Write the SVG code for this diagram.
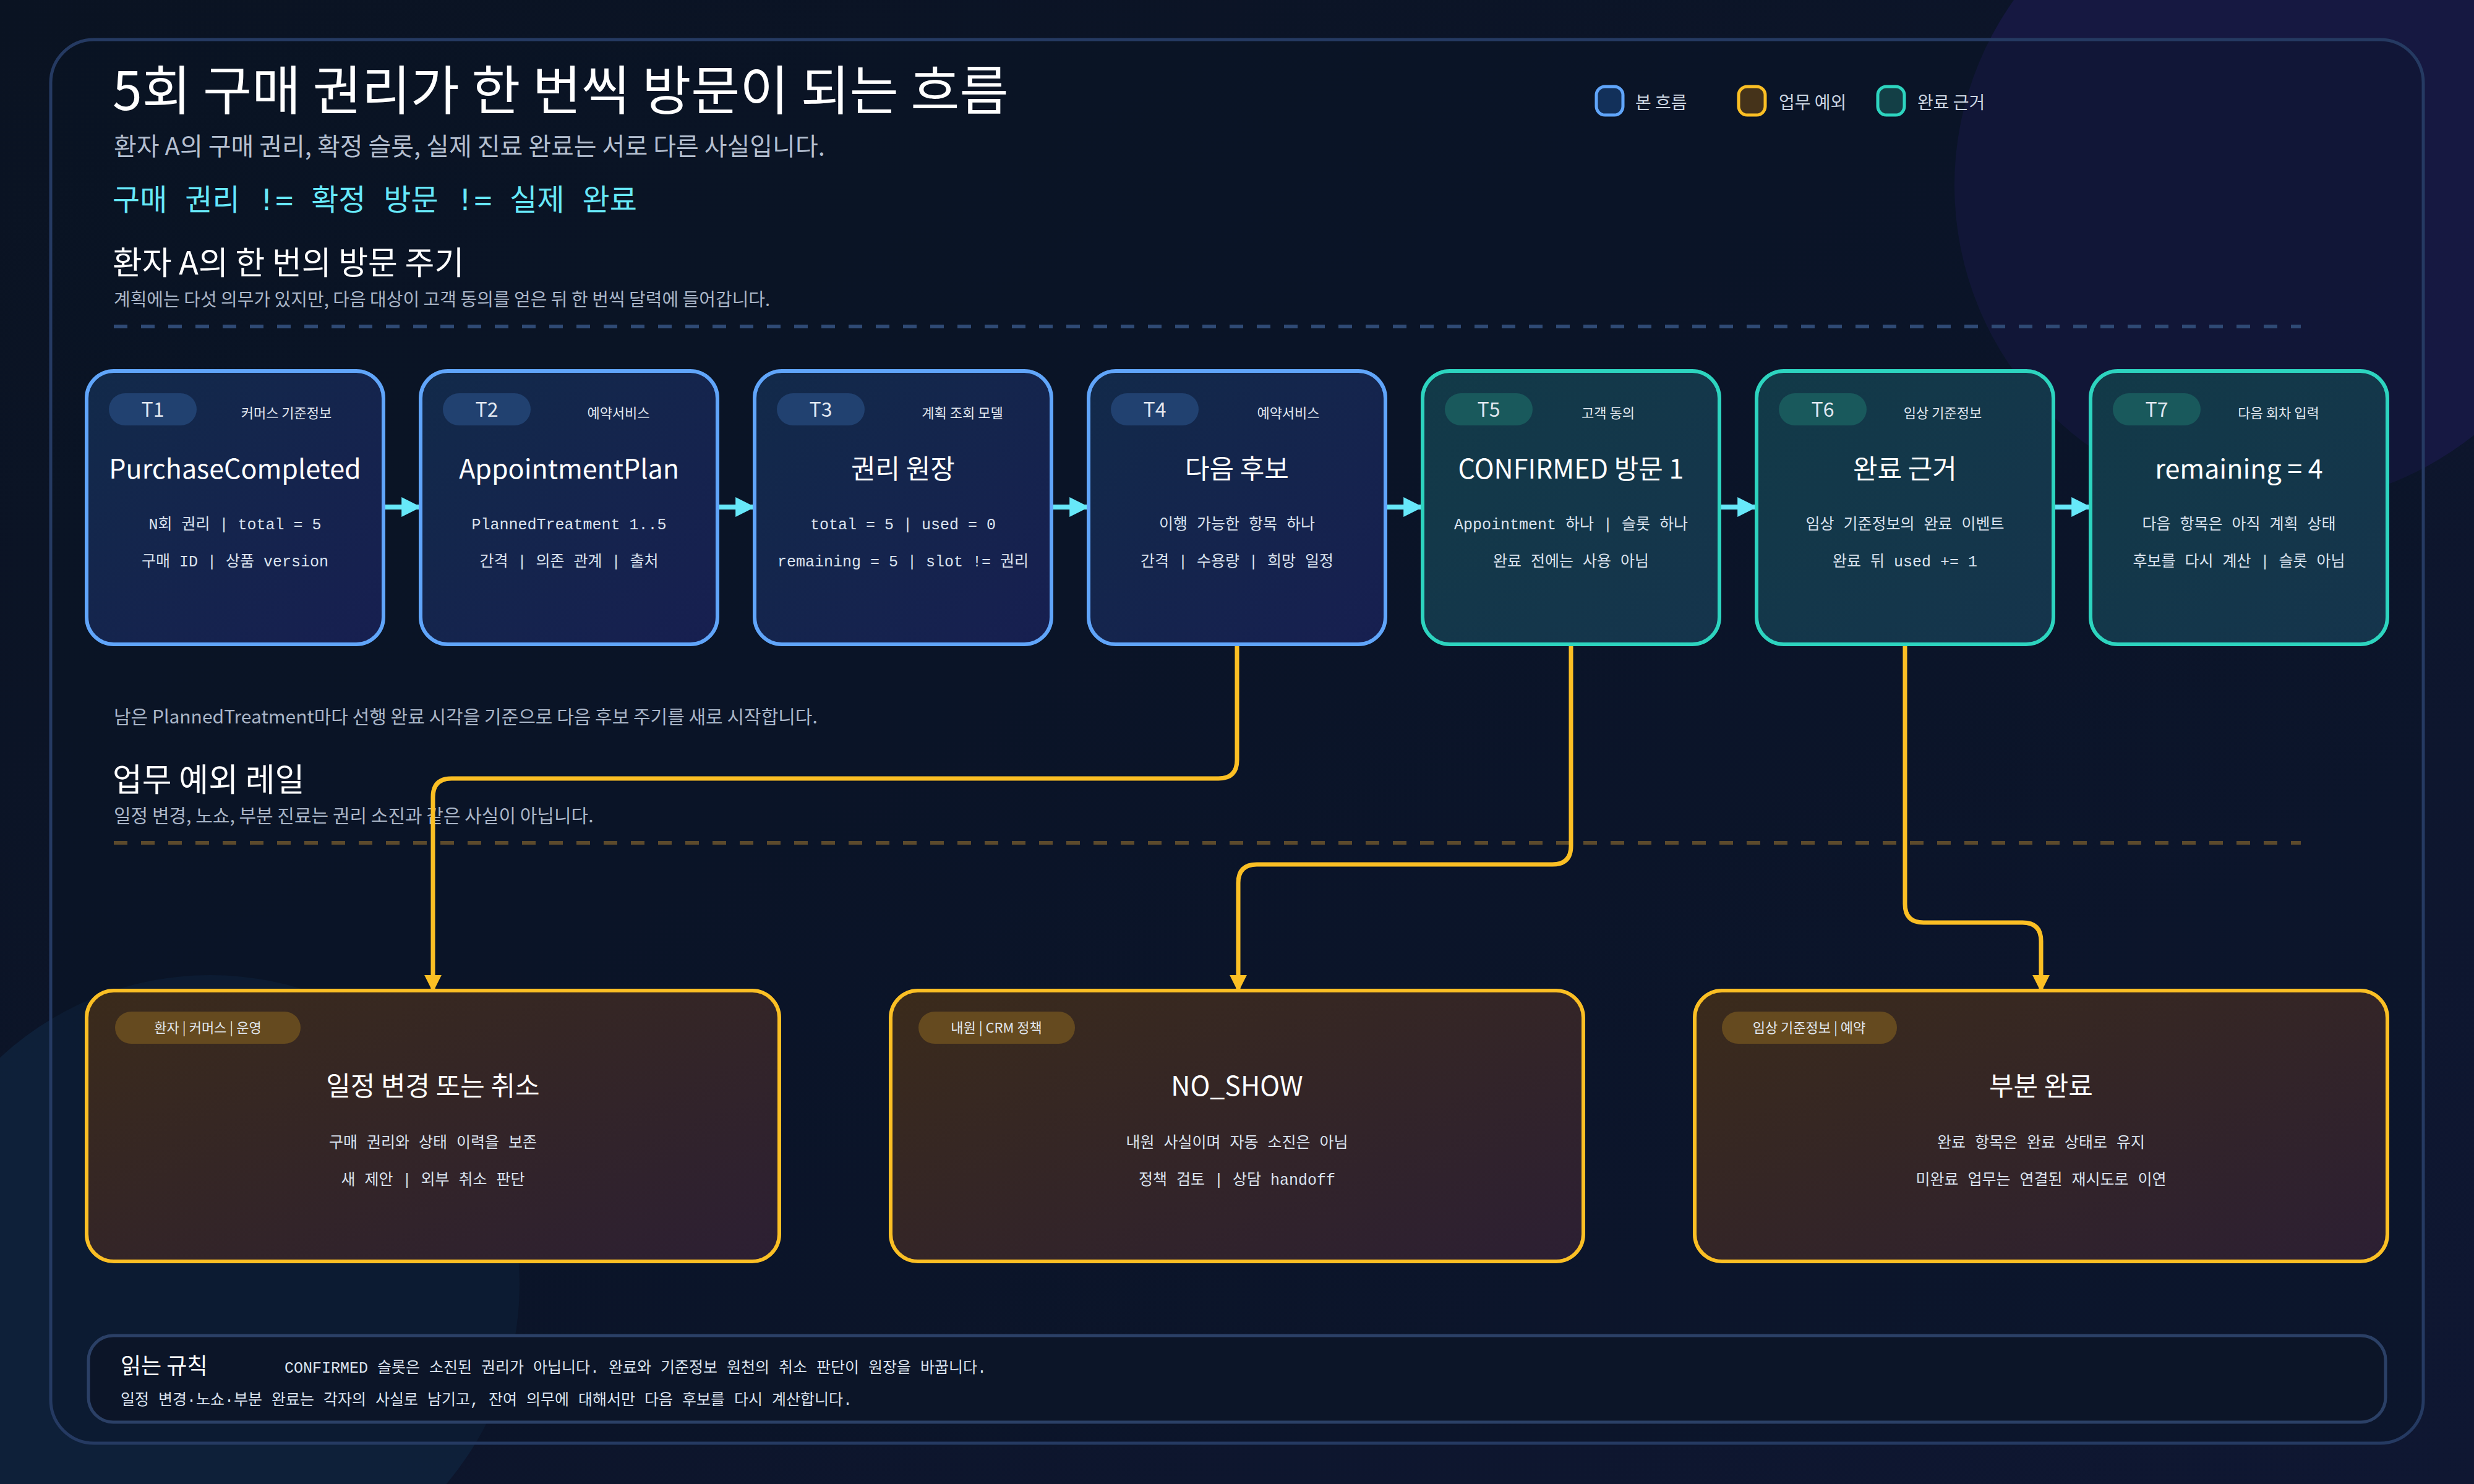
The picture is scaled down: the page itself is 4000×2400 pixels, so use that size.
<svg xmlns="http://www.w3.org/2000/svg" width="4000" height="2400" viewBox="0 0 4000 2400">
<defs>
<linearGradient id="bg" x1="0" y1="0" x2="1" y2="1"><stop offset="0" stop-color="#0a1322"/><stop offset="1" stop-color="#0f1732"/></linearGradient>
<linearGradient id="gBlue" x1="0" y1="0" x2="1" y2="1"><stop offset="0" stop-color="#122a4a"/><stop offset="1" stop-color="#171f50"/></linearGradient>
<linearGradient id="gTeal" x1="0" y1="0" x2="1" y2="1"><stop offset="0" stop-color="#123a48"/><stop offset="1" stop-color="#15344c"/></linearGradient>
<linearGradient id="gAmber" x1="0" y1="0" x2="1" y2="1"><stop offset="0" stop-color="#3b2b1b"/><stop offset="1" stop-color="#2c1f33"/></linearGradient>
<marker id="aC" viewBox="0 0 10 10" refX="9" refY="5" markerWidth="4" markerHeight="6" markerUnits="strokeWidth" orient="auto"><path d="M0,0 L10,5 L0,10 z" fill="#67e8f9"/></marker>
<marker id="aY" viewBox="0 0 10 10" refX="9" refY="5" markerWidth="4" markerHeight="5" markerUnits="strokeWidth" orient="auto"><path d="M0,0 L10,5 L0,10 z" fill="#fbbf24"/></marker>
<style>
.sans{font-family:"Noto Sans CJK KR","Noto Sans",sans-serif}
.mono{font-family:"Liberation Mono","DejaVu Sans Mono","Noto Sans CJK KR",monospace}
.nb{fill:url(#gBlue);stroke:#60a5fa;stroke-width:6}
.nt{fill:url(#gTeal);stroke:#2dd4bf;stroke-width:6}
.na{fill:url(#gAmber);stroke:#fbbf24;stroke-width:6}
.bb{fill:#214170}.bt{fill:#19595c}.ba{fill:#654a1f}
.tag{font-size:32px;fill:#e2e8f0;text-anchor:middle}
.cat{font-size:22px;fill:#e2e8f0;text-anchor:middle}
.ttl{font-size:43px;fill:#ffffff;text-anchor:middle}
.ln{font-size:25px;fill:#dbe3ef;text-anchor:middle}
.h2{font-size:52px;fill:#ffffff}
.sub{font-size:30px;fill:#aab6c8}
.leg{font-size:28px;fill:#cbd5e1}
.flow{fill:none;stroke:#67e8f9;stroke-width:8;marker-end:url(#aC)}
.exc{fill:none;stroke:#fbbf24;stroke-width:7;marker-end:url(#aY)}
</style>
</defs>
<rect width="4000" height="2400" fill="url(#bg)"/>
<circle cx="3677" cy="300" r="517" fill="#1a1a4a" opacity="0.75"/>
<circle cx="340" cy="2077" r="500" fill="#0f2540" opacity="0.7"/>
<rect x="82" y="64" width="3836" height="2270" rx="70" fill="#0a1426" fill-opacity="0.35" stroke="#253a62" stroke-width="5"/>

<g id="header" class="sans">
<text x="182" y="178" font-size="86" fill="#ffffff">5회 구매 권리가 한 번씩 방문이 되는 흐름</text>
<text x="184" y="251" font-size="40" fill="#b4bfd0">환자 A의 구매 권리, 확정 슬롯, 실제 진료 완료는 서로 다른 사실입니다.</text>
<text x="182" y="340" font-size="48" fill="#67e8f9" class="mono" style="font-family:'DejaVu Sans Mono','Noto Sans CJK KR',monospace">구매 권리 != 확정 방문 != 실제 완료</text>
<text x="182" y="444" class="h2">환자 A의 한 번의 방문 주기</text>
<text x="184" y="495" font-size="29" fill="#aab6c8">계획에는 다섯 의무가 있지만, 다음 대상이 고객 동의를 얻은 뒤 한 번씩 달력에 들어갑니다.</text>
<line x1="184" y1="528" x2="3720" y2="528" stroke="#2f4a75" stroke-width="6" stroke-dasharray="22 22"/>
<text x="184" y="1170" class="sub">남은 PlannedTreatment마다 선행 완료 시각을 기준으로 다음 후보 주기를 새로 시작합니다.</text>
<text x="182" y="1280" class="h2">업무 예외 레일</text>
<text x="184" y="1330" class="sub">일정 변경, 노쇼, 부분 진료는 권리 소진과 같은 사실이 아닙니다.</text>
<line x1="184" y1="1363" x2="3720" y2="1363" stroke="#5c4a2c" stroke-width="6" stroke-dasharray="22 22"/>
</g>

<g id="legend" class="sans">
<rect x="2581" y="140" width="43" height="46" rx="14" fill="#12305a" stroke="#60a5fa" stroke-width="5"/>
<text x="2644" y="176" class="leg">본 흐름</text>
<rect x="2811" y="140" width="43" height="46" rx="14" fill="#45331a" stroke="#fbbf24" stroke-width="5"/>
<text x="2876" y="176" class="leg">업무 예외</text>
<rect x="3036" y="140" width="43" height="46" rx="14" fill="#133f46" stroke="#2dd4bf" stroke-width="5"/>
<text x="3100" y="176" class="leg">완료 근거</text>
</g>

<g id="connectors">
<path class="flow" d="M620,820 H678"/>
<path class="flow" d="M1160,820 H1218"/>
<path class="flow" d="M1700,820 H1758"/>
<path class="flow" d="M2240,820 H2298"/>
<path class="flow" d="M2780,820 H2838"/>
<path class="flow" d="M3320,820 H3378"/>
<path class="exc" d="M2000,1042 V1229 Q2000,1259 1970,1259 H730 Q700,1259 700,1289 V1602"/>
<path class="exc" d="M2540,1042 V1368 Q2540,1398 2510,1398 H2032 Q2002,1398 2002,1428 V1602"/>
<path class="exc" d="M3080,1042 V1462 Q3080,1492 3110,1492 H3270 Q3300,1492 3300,1522 V1602"/>
</g>

<g id="T1" class="sans">
<rect class="nb" x="140" y="600" width="480" height="442" rx="44"/>
<rect class="bb" x="176" y="636" width="142" height="52" rx="26"/>
<text class="tag" x="247" y="674">T1</text><text class="cat" x="463" y="676">커머스 기준정보</text>
<text class="ttl" x="380" y="774">PurchaseCompleted</text>
<text class="ln mono" x="380" y="856">N회 권리 | total = 5</text>
<text class="ln mono" x="380" y="916">구매 ID | 상품 version</text>
</g>
<g id="T2" class="sans">
<rect class="nb" x="680" y="600" width="480" height="442" rx="44"/>
<rect class="bb" x="716" y="636" width="142" height="52" rx="26"/>
<text class="tag" x="787" y="674">T2</text><text class="cat" x="1000" y="676">예약서비스</text>
<text class="ttl" x="920" y="774">AppointmentPlan</text>
<text class="ln mono" x="920" y="856">PlannedTreatment 1..5</text>
<text class="ln mono" x="920" y="916">간격 | 의존 관계 | 출처</text>
</g>
<g id="T3" class="sans">
<rect class="nb" x="1220" y="600" width="480" height="442" rx="44"/>
<rect class="bb" x="1256" y="636" width="142" height="52" rx="26"/>
<text class="tag" x="1327" y="674">T3</text><text class="cat" x="1556" y="676">계획 조회 모델</text>
<text class="ttl" x="1460" y="774">권리 원장</text>
<text class="ln mono" x="1460" y="856">total = 5 | used = 0</text>
<text class="ln mono" x="1460" y="916">remaining = 5 | slot != 권리</text>
</g>
<g id="T4" class="sans">
<rect class="nb" x="1760" y="600" width="480" height="442" rx="44"/>
<rect class="bb" x="1796" y="636" width="142" height="52" rx="26"/>
<text class="tag" x="1867" y="674">T4</text><text class="cat" x="2083" y="676">예약서비스</text>
<text class="ttl" x="2000" y="774">다음 후보</text>
<text class="ln mono" x="2000" y="856">이행 가능한 항목 하나</text>
<text class="ln mono" x="2000" y="916">간격 | 수용량 | 희망 일정</text>
</g>
<g id="T5" class="sans">
<rect class="nt" x="2300" y="600" width="480" height="442" rx="44"/>
<rect class="bt" x="2336" y="636" width="142" height="52" rx="26"/>
<text class="tag" x="2407" y="674">T5</text><text class="cat" x="2600" y="676">고객 동의</text>
<text class="ttl" x="2540" y="774">CONFIRMED 방문 1</text>
<text class="ln mono" x="2540" y="856">Appointment 하나 | 슬롯 하나</text>
<text class="ln mono" x="2540" y="916">완료 전에는 사용 아님</text>
</g>
<g id="T6" class="sans">
<rect class="nt" x="2840" y="600" width="480" height="442" rx="44"/>
<rect class="bt" x="2876" y="636" width="142" height="52" rx="26"/>
<text class="tag" x="2947" y="674">T6</text><text class="cat" x="3141" y="676">임상 기준정보</text>
<text class="ttl" x="3080" y="774">완료 근거</text>
<text class="ln mono" x="3080" y="856">임상 기준정보의 완료 이벤트</text>
<text class="ln mono" x="3080" y="916">완료 뒤 used += 1</text>
</g>
<g id="T7" class="sans">
<rect class="nt" x="3380" y="600" width="480" height="442" rx="44"/>
<rect class="bt" x="3416" y="636" width="142" height="52" rx="26"/>
<text class="tag" x="3487" y="674">T7</text><text class="cat" x="3684" y="676">다음 회차 입력</text>
<text class="ttl" x="3620" y="774">remaining = 4</text>
<text class="ln mono" x="3620" y="856">다음 항목은 아직 계획 상태</text>
<text class="ln mono" x="3620" y="916">후보를 다시 계산 | 슬롯 아님</text>
</g>

<g id="E1" class="sans">
<rect class="na" x="140" y="1602" width="1120" height="438" rx="44"/>
<rect class="ba" x="186" y="1636" width="300" height="52" rx="26"/>
<text class="cat" x="336" y="1670">환자 | 커머스 | 운영</text>
<text class="ttl" x="700" y="1772">일정 변경 또는 취소</text>
<text class="ln mono" x="700" y="1856">구매 권리와 상태 이력을 보존</text>
<text class="ln mono" x="700" y="1916">새 제안 | 외부 취소 판단</text>
</g>
<g id="E2" class="sans">
<rect class="na" x="1440" y="1602" width="1120" height="438" rx="44"/>
<rect class="ba" x="1485" y="1636" width="253" height="52" rx="26"/>
<text class="cat" x="1611" y="1670">내원 | CRM 정책</text>
<text class="ttl" x="2000" y="1772">NO_SHOW</text>
<text class="ln mono" x="2000" y="1856">내원 사실이며 자동 소진은 아님</text>
<text class="ln mono" x="2000" y="1916">정책 검토 | 상담 handoff</text>
</g>
<g id="E3" class="sans">
<rect class="na" x="2740" y="1602" width="1120" height="438" rx="44"/>
<rect class="ba" x="2784" y="1636" width="283" height="52" rx="26"/>
<text class="cat" x="2925" y="1670">임상 기준정보 | 예약</text>
<text class="ttl" x="3300" y="1772">부분 완료</text>
<text class="ln mono" x="3300" y="1856">완료 항목은 완료 상태로 유지</text>
<text class="ln mono" x="3300" y="1916">미완료 업무는 연결된 재시도로 이연</text>
</g>

<g id="rules" class="sans">
<rect x="143" y="2160" width="3714" height="140" rx="40" fill="#0c1528" stroke="#2b4066" stroke-width="5"/>
<text x="195" y="2222" font-size="36" fill="#ffffff">읽는 규칙</text>
<text x="460" y="2220" font-size="25" fill="#dbe3ef" class="mono">CONFIRMED 슬롯은 소진된 권리가 아닙니다. 완료와 기준정보 원천의 취소 판단이 원장을 바꿉니다.</text>
<text x="195" y="2272" font-size="25" fill="#dbe3ef" class="mono">일정 변경·노쇼·부분 완료는 각자의 사실로 남기고, 잔여 의무에 대해서만 다음 후보를 다시 계산합니다.</text>
</g>
</svg>
